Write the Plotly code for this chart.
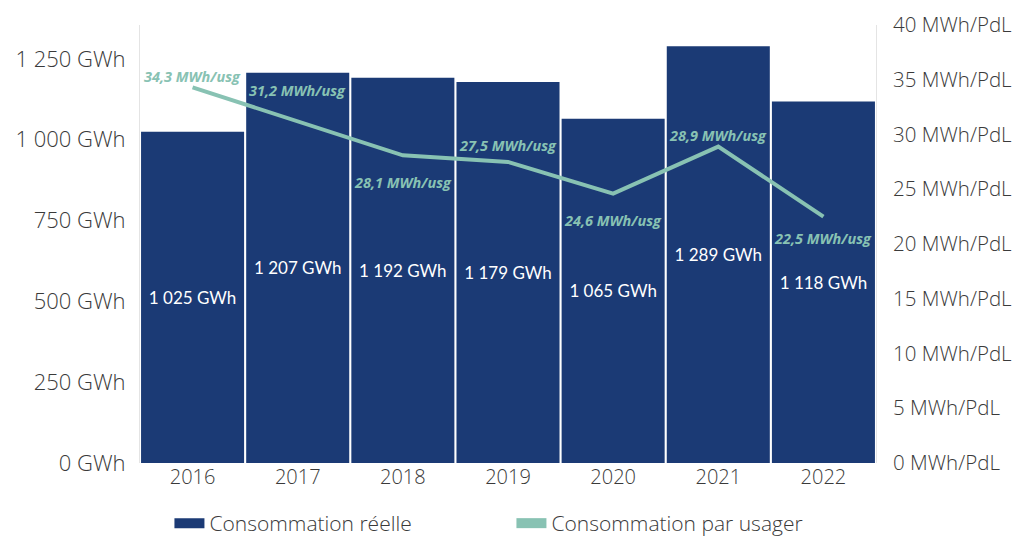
import plotly.graph_objects as go

years = ["2016", "2017", "2018", "2019", "2020", "2021", "2022"]
conso_gwh = [1025, 1207, 1192, 1179, 1065, 1289, 1118]
conso_usager = [34.3, 31.2, 28.1, 27.5, 24.6, 28.9, 22.5]

left_ticks = [0, 250, 500, 750, 1000, 1250]
right_ticks = [0, 5, 10, 15, 20, 25, 30, 35, 40]

# vertical offset (px) of each per-user label relative to its point
label_shift = [11, 31, -27, 16, -27, 11, -22]

NAVY = "#1b3a75"
TEAL = "#88c2b3"
GREY = "#3a3a3a"
Y_FONT = dict(size=22, color=GREY, family="Open Sans", weight=300)
Y2_FONT = dict(size=20.5, color=GREY, family="Open Sans", weight=300)
X_FONT = dict(size=20, color=GREY, family="Open Sans", weight=300)


def fr_num(v):
    return f"{v:,}".replace(",", " ")


fig = go.Figure()

fig.add_trace(go.Bar(
    x=years, y=conso_gwh,
    marker=dict(color=NAVY, line=dict(width=0)),
    text=[f"{fr_num(v)} GWh" for v in conso_gwh],
    textposition="inside", insidetextanchor="middle",
    textfont=dict(color="white", size=17, family="Lato"),
    showlegend=False,
    yaxis="y",
))

fig.add_trace(go.Scatter(
    x=years, y=conso_usager,
    mode="lines",
    line=dict(color=TEAL, width=4),
    showlegend=False,
    yaxis="y2",
))

for i, (v, sh) in enumerate(zip(conso_usager, label_shift)):
    fig.add_annotation(
        x=i, y=v, xref="x", yref="y2",
        text=f"{v:.1f}".replace(".", ",") + " MWh/usg",
        showarrow=False, yshift=sh,
        font=dict(color=TEAL, size=14.5, family="Open Sans", weight="bold", style="italic"),
    )

# legend entries
fig.add_trace(go.Scatter(x=[years[0]], y=[None], mode="lines", name="Consommation réelle",
                         line=dict(color=NAVY, width=12)))
fig.add_trace(go.Scatter(x=[years[0]], y=[None], mode="lines", name="Consommation par usager",
                         line=dict(color=TEAL, width=12), yaxis="y2"))

fig.update_layout(
    width=1005, height=536,
    margin=dict(l=132, r=137, t=17, b=81, autoexpand=False),
    plot_bgcolor="white", paper_bgcolor="white",
    bargap=0.02,
    font=dict(family="Open Sans", color=GREY, size=20),
    xaxis=dict(type="category", showgrid=False, ticks="", tickfont=X_FONT),
    yaxis=dict(
        range=[0, 1355], tickvals=left_ticks,
        ticktext=[f"{fr_num(v)} GWh" for v in left_ticks],
        showgrid=False, zeroline=False,
        showline=True, linecolor="#e4e4e4", linewidth=1,
        ticklabelstandoff=9,
        tickfont=Y_FONT,
    ),
    yaxis2=dict(
        range=[0, 40], tickvals=right_ticks,
        ticktext=[f"{v} MWh/PdL" for v in right_ticks],
        overlaying="y", side="right",
        showgrid=False, zeroline=False,
        showline=True, linecolor="#e4e4e4", linewidth=1,
        ticklabelstandoff=12,
        tickfont=Y2_FONT,
    ),
    legend=dict(
        orientation="h", x=0.04, xanchor="left", y=0, yref="container", yanchor="bottom",
        font=dict(size=21, color=GREY, family="Open Sans", weight=300),
        entrywidth=297,
    ),
)

fig.write_html("out.html")
